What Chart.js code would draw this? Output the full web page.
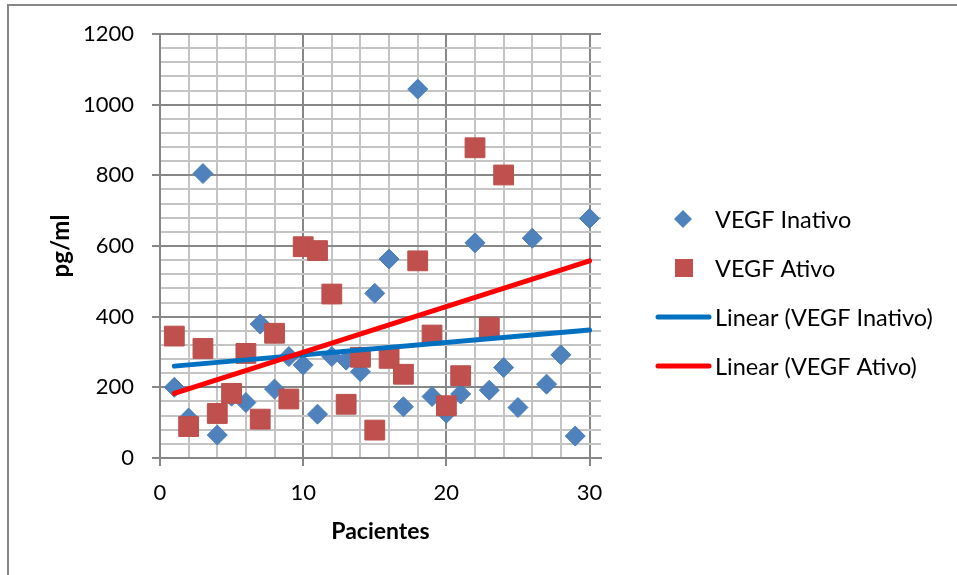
<!DOCTYPE html>
<html>
<head>
<meta charset="utf-8">
<script src="https://cdn.jsdelivr.net/npm/chart.js@4.4.0/dist/chart.umd.min.js"></script>
<style>
  body { margin: 0; background: #fff; }
</style>
</head>
<body>
<canvas id="myChart" width="957" height="575"></canvas>
<script>
const pacientes = [
    1, 2, 3, 4, 5, 6, 7, 8, 9, 10,
    11, 12, 13, 14, 15, 16, 17, 18, 19, 20,
    21, 22, 23, 24, 25, 26, 27, 28, 29, 30,
];

const vegfInativo = [
    200, 113, 805, 65, 175, 157, 379, 195, 287, 263,
    124, 287, 277, 244, 466, 563, 145, 1044, 174, 127,
    181, 609, 192, 256, 143, 622, 209, 292, 62, 678,
];

const vegfAtivo = [
    345, 89, 310, 126, 183, 296, 110, 353, 167, 598,
    587, 464, 152, 285, 79, 282, 237, 558, 348, 148,
    233, 878, 370, 801,
];

// trend line end points (x = 1 and x = 30)
const trendX = [1, 30];
const trendInativo = [260, 362];
const trendAtivo = [183, 558];

const legendLabels = [
    'VEGF Inativo',
    'VEGF Ativo',
    'Linear (VEGF Inativo)',
    'Linear (VEGF Ativo)',
];

const BLUE = '#4F81BD';
const RED = '#C0504D';
const MAJOR = '#878787';
const MINOR = '#C4C4C4';
const FONT = 'Lato';

const toPoints = (xs, ys) => ys.map((y, i) => ({x: xs[i], y: y}));

const data = {
    datasets: [{
        type: 'line',
        label: legendLabels[3],
        data: toPoints(trendX, trendAtivo),
        borderColor: '#FF0000',
        borderWidth: 5,
        borderCapStyle: 'round',
        pointRadius: 0,
        order: 0,
    }, {
        type: 'line',
        label: legendLabels[2],
        data: toPoints(trendX, trendInativo),
        borderColor: '#0070C0',
        borderWidth: 5,
        borderCapStyle: 'round',
        pointRadius: 0,
        order: 1,
    }, {
        label: legendLabels[1],
        data: toPoints(pacientes, vegfAtivo),
        pointStyle: 'rect',
        pointRadius: 14,
        pointHoverRadius: 14,
        backgroundColor: RED,
        borderColor: '#B9504D',
        borderWidth: 1,
        order: 2,
    }, {
        label: legendLabels[0],
        data: toPoints(pacientes, vegfInativo),
        pointStyle: 'rectRot',
        pointRadius: 10,
        pointHoverRadius: 10,
        backgroundColor: BLUE,
        borderColor: '#4A7EBB',
        borderWidth: 1,
        order: 3,
    }]
};

// frame round the chart, like the Excel chart area border
const framePlugin = {
    id: 'frame',
    afterDraw(chart) {
        const ctx = chart.ctx;
        ctx.save();
        ctx.strokeStyle = '#878787';
        ctx.lineWidth = 2;
        ctx.beginPath();
        ctx.moveTo(8, 575);
        ctx.lineTo(8, 5);
        ctx.lineTo(957, 5);
        ctx.stroke();
        ctx.restore();
    }
};

// legend on the right, drawn by hand
const legendPlugin = {
    id: 'sideLegend',
    afterDraw(chart) {
        const ctx = chart.ctx;
        const rows = [219, 268, 317, 366];
        const textX = 715;
        ctx.save();
        ctx.font = '23.5px ' + FONT;
        ctx.fillStyle = '#000';
        ctx.textBaseline = 'middle';
        rows.forEach((y, i) => ctx.fillText(legendLabels[i], textX, y + 1));

        // diamond
        ctx.fillStyle = BLUE;
        ctx.beginPath();
        ctx.moveTo(683, rows[0] - 9);
        ctx.lineTo(692, rows[0]);
        ctx.lineTo(683, rows[0] + 9);
        ctx.lineTo(674, rows[0]);
        ctx.closePath();
        ctx.fill();
        // square
        ctx.fillStyle = RED;
        ctx.fillRect(675, rows[1] - 9, 18, 18);
        // lines
        ctx.lineWidth = 5;
        ctx.lineCap = 'round';
        ctx.strokeStyle = '#0070C0';
        ctx.beginPath();
        ctx.moveTo(658, rows[2]);
        ctx.lineTo(709, rows[2]);
        ctx.stroke();
        ctx.strokeStyle = '#FF0000';
        ctx.beginPath();
        ctx.moveTo(658, rows[3]);
        ctx.lineTo(709, rows[3]);
        ctx.stroke();
        ctx.restore();
    }
};

const config = {
    type: 'scatter',
    data: data,
    options: {
        responsive: false,
        animation: false,
        layout: {
            padding: {top: 34, right: 356, left: 0, bottom: 0}
        },
        plugins: {
            legend: {display: false},
            tooltip: {enabled: false},
        },
        scales: {
            x: {
                type: 'linear',
                min: 0,
                max: 30.8,
                afterBuildTicks: (scale) => {
                    const ticks = [];
                    for (let v = 0; v <= 30; v += 2) ticks.push({value: v});
                    scale.ticks = ticks;
                },
                afterFit: (scale) => { scale.height = 117; },
                ticks: {
                    autoSkip: false,
                    maxRotation: 0,
                    padding: 14,
                    color: '#000',
                    font: {family: FONT, size: 22},
                    callback: (v) => (v % 10 === 0 ? v : ''),
                },
                grid: {
                    color: (c) => (c.tick && c.tick.value % 10 === 0 ? MAJOR : MINOR),
                    tickColor: (c) => (c.tick && c.tick.value % 10 === 0 ? MAJOR : 'rgba(0,0,0,0)'),
                    lineWidth: 2,
                    tickLength: 8,
                },
                border: {color: MAJOR, width: 2},
                title: {
                    display: true,
                    text: 'Pacientes',
                    color: '#000',
                    font: {family: FONT, size: 23, weight: 'bold'},
                    padding: {top: 0, bottom: 30},
                },
            },
            y: {
                min: 0,
                max: 1200,
                afterFit: (scale) => { scale.width = 160; },
                ticks: {
                    stepSize: 40,
                    autoSkip: false,
                    padding: 18,
                    color: '#000',
                    font: {family: FONT, size: 22},
                    callback: (v) => (v % 200 === 0 ? v : ''),
                },
                grid: {
                    color: (c) => (c.tick && c.tick.value % 200 === 0 ? MAJOR : MINOR),
                    tickColor: (c) => (c.tick && c.tick.value % 200 === 0 ? MAJOR : 'rgba(0,0,0,0)'),
                    lineWidth: 2,
                    tickLength: 8,
                },
                border: {color: MAJOR, width: 2},
                title: {
                    display: true,
                    text: 'pg/ml',
                    color: '#000',
                    font: {family: FONT, size: 24, weight: 'bold'},
                    padding: {top: 47, bottom: 0},
                },
            }
        }
    },
    plugins: [framePlugin, legendPlugin],
};

const myChart = new Chart(
    document.getElementById('myChart'),
    config
);
</script>
</body>
</html>
